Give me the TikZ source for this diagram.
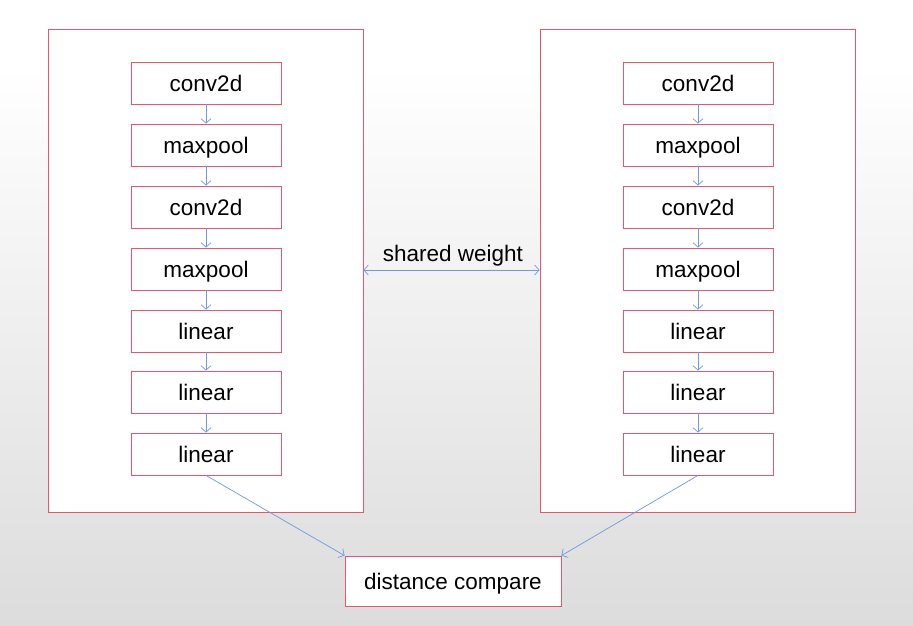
\documentclass[tikz,border=0pt]{standalone}
\usepackage{fontspec}
\setmainfont{Liberation Sans}
\usetikzlibrary{arrows.meta}
\definecolor{boxred}{HTML}{E5576D}
\definecolor{arrblue}{HTML}{6E9AE0}
\definecolor{bggray}{HTML}{DCDCDC}
\begin{document}
\begin{tikzpicture}[x=1pt,y=-1pt,
  txt/.style={font=\fontsize{22.5}{26}\selectfont, text height=17.5pt, text depth=1pt},
  layer/.style={txt, draw=boxred, fill=white, line width=0.8pt, minimum width=150pt, minimum height=42pt, inner sep=0pt},
  outer/.style={draw=boxred, fill=white, line width=0.8pt},
  flow/.style={draw=arrblue, line width=0.7pt, -{Straight Barb[length=4.5pt,width=10pt]}},
  both/.style={draw=arrblue, line width=0.7pt, {Straight Barb[length=4.5pt,width=10pt]}-{Straight Barb[length=4.5pt,width=10pt]}}]
\useasboundingbox (0,0) rectangle (913,626);
\fill[white] (0,0) rectangle (913,70);
\shade[top color=white, bottom color=bggray] (0,70) rectangle (913,626);
\node[outer, minimum width=315pt, minimum height=483pt, inner sep=0pt] (L) at (205.5,270.5) {};
\node[outer, minimum width=315pt, minimum height=483pt, inner sep=0pt] (R) at (697.5,270.5) {};
\foreach \side/\x in {l/206,r/698}{
  \node[layer] (\side1) at (\x,83) {conv2d};
  \node[layer] (\side2) at (\x,145) {maxpool};
  \node[layer] (\side3) at (\x,207) {conv2d};
  \node[layer] (\side4) at (\x,269) {maxpool};
  \node[layer] (\side5) at (\x,331) {linear};
  \node[layer] (\side6) at (\x,392) {linear};
  \node[layer] (\side7) at (\x,454) {linear};
  \foreach \a/\b in {1/2,2/3,3/4,4/5,5/6,6/7}{
    \draw[flow] (\side\a.south) -- (\side\b.north);
  }
}
\node[layer, minimum width=216pt, minimum height=50pt] (D) at (453,581) {distance compare};
\draw[flow] (l7.south) -- (D.north west);
\draw[flow] (r7.south) -- (D.north east);
\draw[both] (L.east |- 0,270) coordinate (a) -- (R.west |- 0,270) coordinate (b);
\node[txt, inner sep=0pt] (sw) at (453,253) {shared weight};
\end{tikzpicture}
\end{document}
